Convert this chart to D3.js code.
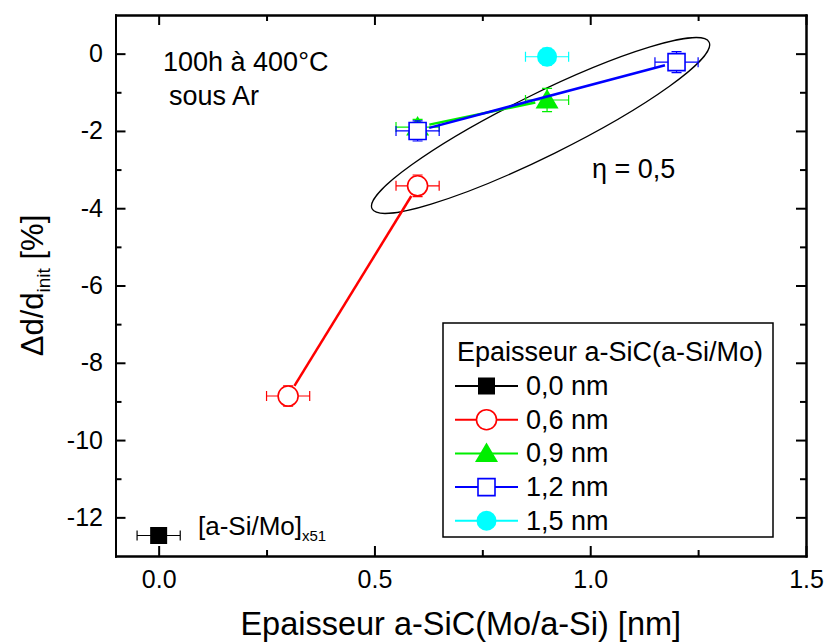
<!DOCTYPE html>
<html>
<head>
  <meta charset="UTF-8">
  <style>
body {
    margin: 0;
    background: white;
}
svg text {
    font-family: "Liberation Sans", Arial, sans-serif;
    fill: black;
}
.axis path, .axis line {
    stroke: black;
    stroke-width: 2px;
}
.axis text {
    font-size: 25px;
}
  </style>
</head>
<body>
<svg id="chart"></svg>

<script src="https://d3js.org/d3.v7.min.js"></script>
<script>

// series (legend order)
const seriesNames = ["0,0 nm", "0,6 nm", "0,9 nm", "1,2 nm", "1,5 nm"];
const seriesColors = ["#000000", "#ff0000", "#00ee00", "#0000ff", "#00ffff"];
const seriesSymbols = ["square", "circleOpen", "triangle", "squareOpen", "circle"];

// values
const xValues = [[0], [0.3, 0.6], [0.6, 0.9], [0.6, 1.2], [0.9]];
const yValues = [[-12.47], [-8.86, -3.42], [-1.9, -1.2], [-2.0, -0.22], [-0.08]];
const xErrors = [[0.05], [0.05, 0.05], [0.05, 0.05], [0.05, 0.05], [0.05]];
const yErrors = [[0.2], [0.26, 0.28], [0.2, 0.3], [0.26, 0.27], [0.22]];

// ticks
const xMajor = [0, 0.5, 1.0, 1.5];
const xMinor = [0.25, 0.75, 1.25];
const yMajor = [0, -2, -4, -6, -8, -10, -12];
const yMinor = [-1, -3, -5, -7, -9, -11];

// ellipse annotation (centre in data units)
const ellipseCentre = [0.885, -1.86];

let width = 826, height = 643;
let margin = {left: 115.5, right: 20, top: 15, bottom: 87};

let svg = d3.select("#chart")
    .attr("width", width)
    .attr("height", height);

let x = d3.scaleLinear().domain([-0.1, 1.5]).range([margin.left, width - margin.right]);
let y = d3.scaleLinear().domain([-13, 1]).range([height - margin.bottom, margin.top]);

let x0 = x.range()[0], x1 = x.range()[1];
let y0 = y.range()[0], y1 = y.range()[1];

// axes, ticks pointing inward on all four sides
function addAxis(axis, tx, ty) {
    svg.append("g").attr("class", "axis")
        .attr("transform", "translate(" + tx + "," + ty + ")")
        .call(axis);
}
addAxis(d3.axisBottom(x).tickValues(xMajor).tickSizeInner(-10).tickSizeOuter(0)
    .tickPadding(14).tickFormat(d3.format(".1f")), 0, y0);
addAxis(d3.axisBottom(x).tickValues(xMinor).tickSizeInner(-6).tickSizeOuter(0).tickFormat(""), 0, y0);
addAxis(d3.axisTop(x).tickValues(xMajor).tickSizeInner(-10).tickSizeOuter(0).tickFormat(""), 0, y1);
addAxis(d3.axisTop(x).tickValues(xMinor).tickSizeInner(-6).tickSizeOuter(0).tickFormat(""), 0, y1);
addAxis(d3.axisLeft(y).tickValues(yMajor).tickSizeInner(-10).tickSizeOuter(0)
    .tickPadding(12.5).tickFormat(d => String(d)), x0, 0);
addAxis(d3.axisLeft(y).tickValues(yMinor).tickSizeInner(-6).tickSizeOuter(0).tickFormat(""), x0, 0);
addAxis(d3.axisRight(y).tickValues(yMajor).tickSizeInner(-10).tickSizeOuter(0).tickFormat(""), x1, 0);
addAxis(d3.axisRight(y).tickValues(yMinor).tickSizeInner(-6).tickSizeOuter(0).tickFormat(""), x1, 0);

svg.selectAll(".axis text").style("fill", "black");
svg.selectAll(".axis path").attr("stroke-linecap", "square");

// marker shapes
function markerPath(kind) {
    if (kind == "square" || kind == "squareOpen") return "M-8.5,-8.5H8.5V8.5H-8.5Z";
    if (kind == "triangle") return "M0,-11L11.5,8.5L-11.5,8.5Z";
    return d3.symbol(d3.symbolCircle, Math.PI * 10 * 10)();
}
function drawMarker(g, kind, color, px, py) {
    let open = kind == "squareOpen" || kind == "circleOpen";
    g.append("path")
        .attr("d", markerPath(kind))
        .attr("transform", "translate(" + px + "," + py + ")")
        .attr("fill", open ? "white" : color)
        .attr("stroke", color)
        .attr("stroke-width", open ? 1.6 : 0);
}

// ellipse annotation
svg.append("ellipse")
    .attr("cx", 0).attr("cy", 0)
    .attr("rx", 188).attr("ry", 31)
    .attr("transform", "translate(" + x(ellipseCentre[0]) + "," + y(ellipseCentre[1]) + ") rotate(-26.3)")
    .attr("fill", "none")
    .attr("stroke", "black")
    .attr("stroke-width", 1.3);

// series: line, error bars, then symbols
let gap = 12, cap = 5;
seriesNames.forEach((name, s) => {
    let color = seriesColors[s];
    let g = svg.append("g");
    let pts = xValues[s].map((v, i) => [x(v), y(yValues[s][i])]);

    for (let i = 1; i < pts.length; i++) {
        let a = pts[i - 1], b = pts[i];
        let dx = b[0] - a[0], dy = b[1] - a[1];
        let len = Math.sqrt(dx * dx + dy * dy);
        let ux = dx / len, uy = dy / len;
        g.append("line")
            .attr("x1", a[0] + ux * gap).attr("y1", a[1] + uy * gap)
            .attr("x2", b[0] - ux * gap).attr("y2", b[1] - uy * gap)
            .attr("stroke", color)
            .attr("stroke-width", 2.5);
    }

    xValues[s].forEach((v, i) => {
        let cx = x(v), cy = y(yValues[s][i]);
        let xl = x(v - xErrors[s][i]), xr = x(v + xErrors[s][i]);
        let yt = y(yValues[s][i] + yErrors[s][i]), yb = y(yValues[s][i] - yErrors[s][i]);
        g.append("path")
            .attr("d", "M" + xl + "," + cy + "H" + xr +
                "M" + xl + "," + (cy - cap) + "V" + (cy + cap) +
                "M" + xr + "," + (cy - cap) + "V" + (cy + cap) +
                "M" + cx + "," + yt + "V" + yb +
                "M" + (cx - cap) + "," + yt + "H" + (cx + cap) +
                "M" + (cx - cap) + "," + yb + "H" + (cx + cap))
            .attr("fill", "none")
            .attr("stroke", color)
            .attr("stroke-width", 1.2);
        drawMarker(g, seriesSymbols[s], color, cx, cy);
    });
});

// text annotations
svg.append("text")
    .attr("x", 163).attr("y", 71)
    .style("font-size", "27px")
    .text("100h à 400°C");
svg.append("text")
    .attr("x", 169).attr("y", 105)
    .style("font-size", "27px")
    .text("sous Ar");
svg.append("text")
    .attr("x", 592).attr("y", 178)
    .style("font-size", "27px")
    .text("η = 0,5");

let lab = svg.append("text")
    .attr("x", 198).attr("y", 535)
    .style("font-size", "26px");
lab.append("tspan").text("[a-Si/Mo]");
lab.append("tspan").attr("dy", 6).style("font-size", "15px").text("x51");

// axis titles
svg.append("text")
    .attr("x", (x0 + x1) / 2).attr("y", 635)
    .attr("text-anchor", "middle")
    .style("font-size", "32.5px")
    .text("Epaisseur a-SiC(Mo/a-Si) [nm]");

let yt = svg.append("text")
    .attr("transform", "translate(43," + ((y0 + y1) / 2) + ") rotate(-90)")
    .attr("text-anchor", "middle")
    .style("font-size", "31px");
yt.append("tspan").text("Δd/d");
yt.append("tspan").attr("dy", 7).style("font-size", "19px").text("init");
yt.append("tspan").attr("dy", -7).text(" [%]");

// legend
let legend = svg.append("g");
legend.append("rect")
    .attr("x", 443).attr("y", 323)
    .attr("width", 330).attr("height", 214)
    .attr("fill", "white")
    .attr("stroke", "black")
    .attr("stroke-width", 1.5);
legend.append("text")
    .attr("x", 457).attr("y", 361)
    .style("font-size", "27px")
    .text("Epaisseur a-SiC(a-Si/Mo)");

seriesNames.forEach((name, s) => {
    let ly = 386 + s * 33.7;
    legend.append("line")
        .attr("x1", 455).attr("x2", 518)
        .attr("y1", ly).attr("y2", ly)
        .attr("stroke", seriesColors[s])
        .attr("stroke-width", 2);
    drawMarker(legend, seriesSymbols[s], seriesColors[s], 486.5, ly);
    legend.append("text")
        .attr("x", 526).attr("y", ly + 9)
        .style("font-size", "27px")
        .text(name);
});

</script>
</body>
</html>
